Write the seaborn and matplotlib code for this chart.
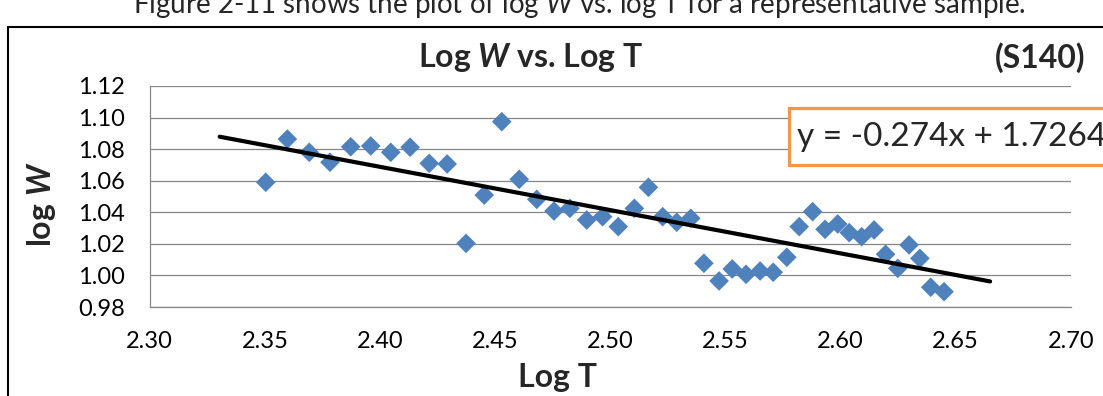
import matplotlib
matplotlib.use("Agg")
import matplotlib.pyplot as plt
import seaborn as sns
import numpy as np
import pandas as pd
from matplotlib.patches import Rectangle
from matplotlib.lines import Line2D
from matplotlib.ticker import MultipleLocator, FormatStrFormatter

# ---------------- data ----------------
log_t = [2.3504, 2.3598, 2.3693, 2.3783, 2.3873, 2.3960, 2.4047, 2.4131, 2.4214, 2.4292,
         2.4374, 2.4453, 2.4529, 2.4605, 2.4681, 2.4756, 2.4825, 2.4898, 2.4967, 2.5035,
         2.5105, 2.5166, 2.5228, 2.5289, 2.5350, 2.5407, 2.5473, 2.5530, 2.5590, 2.5651,
         2.5708, 2.5767, 2.5821, 2.5879, 2.5933, 2.5988, 2.6038, 2.6092, 2.6146, 2.6196,
         2.6249, 2.6298, 2.6345, 2.6392, 2.6450]
log_w = [1.0590, 1.0864, 1.0780, 1.0717, 1.0815, 1.0820, 1.0780, 1.0812, 1.0710, 1.0706,
         1.0203, 1.0509, 1.0974, 1.0609, 1.0482, 1.0408, 1.0425, 1.0351, 1.0372, 1.0309,
         1.0425, 1.0558, 1.0372, 1.0337, 1.0362, 1.0077, 0.9965, 1.0041, 1.0007, 1.0028,
         1.0020, 1.0115, 1.0309, 1.0404, 1.0292, 1.0326, 1.0271, 1.0245, 1.0288, 1.0134,
         1.0045, 1.0193, 1.0108, 0.9925, 0.9897]
trend_slope = -0.274
trend_intercept = 1.7264
trend_x = [2.3304, 2.665]
x_ticks = [2.30, 2.35, 2.40, 2.45, 2.50, 2.55, 2.60, 2.65, 2.70]
y_ticks = [0.98, 1.00, 1.02, 1.04, 1.06, 1.08, 1.10, 1.12]

title_text = r"Log $\mathbfit{W}$ vs. Log T"
sample_text = "(S140)"
x_label = "Log T"
y_label = r"log $\mathbfit{W}$"
equation_text = "y = -0.274x + 1.7264"
caption_text = r"Figure 2-11 shows the plot of log $\mathit{W}$ vs. log T for a representative sample."

# ---------------- style ----------------
sns.set_style("white")
plt.rcParams["font.family"] = ["Lato", "DejaVu Sans"]
plt.rcParams["mathtext.fontset"] = "custom"
plt.rcParams["mathtext.rm"] = "Lato"
plt.rcParams["mathtext.it"] = "Lato:italic"
plt.rcParams["mathtext.bf"] = "Lato:bold"
plt.rcParams["mathtext.bfit"] = "Lato:italic:bold"

W, H = 1103, 396
fig = plt.figure(figsize=(W / 100, H / 100), dpi=100)
fig.patch.set_facecolor("white")

x0, x1, ytop, ybot = 149.7, 1070.7, 86.0, 307.0
ax = fig.add_axes([x0 / W, 1 - ybot / H, (x1 - x0) / W, (ybot - ytop) / H])

grid_col = "#868686"
df = pd.DataFrame({"logT": log_t, "logW": log_w})
sns.scatterplot(data=df, x="logT", y="logW", marker="D", color="#4F81BD",
                s=100, edgecolor="none", linewidth=0, ax=ax, zorder=3, clip_on=False)

tx = np.array(trend_x)
ax.plot(tx, trend_slope * tx + trend_intercept, color="black", lw=3.0,
        solid_capstyle="round", zorder=4)

ax.set_xlim(2.30, 2.70)
ax.set_ylim(0.98, 1.12)
ax.set_xticks(x_ticks)
ax.set_yticks(y_ticks)
ax.xaxis.set_minor_locator(MultipleLocator(0.01))
ax.xaxis.set_major_formatter(FormatStrFormatter("%.2f"))
ax.yaxis.set_major_formatter(FormatStrFormatter("%.2f"))
ax.grid(axis="y", color=grid_col, lw=0.9, zorder=0)
ax.set_axisbelow(True)
for s in ["top", "right"]:
    ax.spines[s].set_visible(False)
for s in ["left", "bottom"]:
    ax.spines[s].set_color(grid_col)
    ax.spines[s].set_linewidth(0.9)
ax.tick_params(axis="x", which="major", direction="in", length=5.8, width=0.9,
               color=grid_col, labelsize=17, pad=17, labelcolor="black")
ax.tick_params(axis="x", which="minor", direction="in", length=4.3, width=0.9,
               color=grid_col)
ax.tick_params(axis="y", which="major", direction="out", length=5.8, width=0.9,
               color=grid_col, labelsize=17, pad=12, labelcolor="black")
ax.set_xlabel("")
ax.set_ylabel("")

# labels and titles
fig.text(557 / W, 1 - 378 / H, x_label, ha="center", va="center",
         fontsize=23, fontweight="bold")
fig.text(41 / W, 1 - 204 / H, y_label, ha="center", va="center",
         rotation=90, fontsize=23, fontweight="bold")
fig.text(531 / W, 1 - 58 / H, title_text, ha="center", va="center",
         fontsize=23, fontweight="bold")
fig.text(1040 / W, 1 - 58 / H, sample_text, ha="center", va="center",
         fontsize=23, fontweight="bold")

# caption partially cut at top
fig.text(133 / W, 1 - 13 / H, caption_text, ha="left", va="baseline", fontsize=20)

# chart frame
frame_y = 27
fig.add_artist(Line2D([8 / W, 1.01], [1 - frame_y / H, 1 - frame_y / H],
                      transform=fig.transFigure, color="black", lw=1.5))
fig.add_artist(Line2D([8 / W, 8 / W], [1 - frame_y / H, -0.01],
                      transform=fig.transFigure, color="black", lw=1.5))

# equation box (clipped at right edge)
bx0, by0, by1 = 789, 108, 165
fig.add_artist(Rectangle((bx0 / W, 1 - by1 / H), (W + 20 - bx0) / W, (by1 - by0) / H,
                         transform=fig.transFigure, facecolor="white",
                         edgecolor="#F79646", lw=2.3, zorder=5))
fig.text(797 / W, 1 - 137 / H, equation_text, ha="left", va="center",
         fontsize=24, zorder=6)

fig.savefig("out.png", dpi=100)
